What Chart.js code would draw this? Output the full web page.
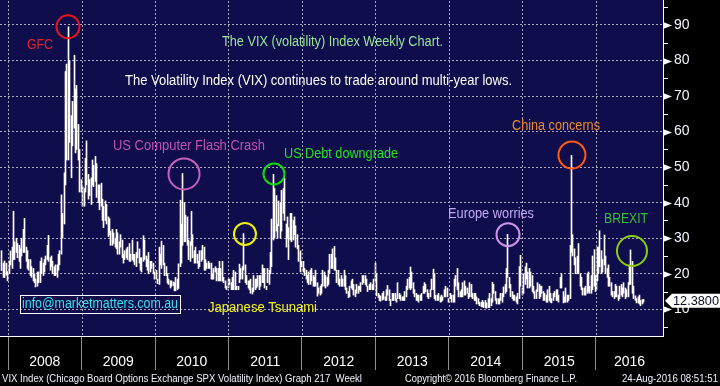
<!DOCTYPE html>
<html>
<head>
<meta charset="utf-8">
<title>VIX weekly chart</title>
<script src="https://cdn.jsdelivr.net/npm/chart.js@4.4.1/dist/chart.umd.min.js"></script>
<style>
    html, body { margin: 0; padding: 0; background: #000; }
    canvas { display: block; }
</style>
</head>
<body>
<canvas id="vix" width="720" height="386"></canvas>
<script>
    // weekly high / low of the VIX, one entry per week
    const hi2007 = [26.5, 23.0, 23.6, 23.0, 20.6]
    const lo2007 = [20.9, 19.0, 18.9, 19.6, 18.0]

    const hi2008 = [23.6, 26.4, 27.5, 37.6, 29.0, 30.0, 28.5, 28.0, 27.0, 30.0, 32.5, 35.6, 27.5, 26.5, 24.0, 24.0, 22.0, 21.5, 20.0, 18.5, 20.5, 20.5, 23.5, 24.5, 23.0, 24.0, 25.0, 28.0, 30.8, 24.5, 25.0, 23.5, 22.0, 22.5, 22.5, 25.5, 26.5, 42.2, 37.0, 48.4, 76.9, 79.0, 89.5, 80.0, 64.5, 68.5, 81.5, 72.0, 73.0, 62.0, 55.0, 46.5]
    const lo2008 = [20.0, 22.5, 21.5, 24.0, 24.0, 26.0, 24.5, 23.5, 21.5, 25.0, 26.0, 26.0, 23.5, 21.5, 21.0, 19.5, 19.0, 18.0, 17.5, 16.3, 16.5, 17.5, 17.5, 20.0, 19.5, 20.5, 22.5, 24.0, 23.5, 21.0, 22.0, 20.0, 19.5, 19.5, 19.0, 21.0, 22.5, 25.5, 30.0, 34.0, 45.0, 52.0, 52.0, 57.0, 47.0, 56.0, 61.0, 54.0, 55.0, 52.0, 43.0, 43.0]

    const hi2009 = [44.5, 44.0, 52.5, 57.4, 48.0, 46.5, 47.0, 52.0, 50.5, 53.0, 51.0, 45.0, 45.0, 45.5, 41.0, 39.0, 40.5, 39.5, 36.0, 35.5, 32.0, 32.5, 31.5, 30.0, 32.5, 31.5, 29.0, 31.0, 29.5, 25.5, 26.5, 27.0, 27.5, 28.5, 25.5, 29.5, 25.5, 25.5, 26.0, 29.0, 27.0, 24.5, 24.5, 30.7, 29.5, 25.0, 24.0, 26.0, 23.5, 23.5, 23.0, 20.5]
    const lo2009 = [39.0, 39.0, 43.0, 45.0, 41.0, 42.0, 39.5, 45.0, 44.5, 46.0, 41.5, 40.0, 38.0, 39.0, 35.0, 33.0, 35.0, 34.0, 30.5, 31.0, 28.0, 28.0, 28.5, 27.5, 27.0, 25.5, 25.5, 27.5, 24.5, 23.0, 24.0, 24.5, 24.0, 23.5, 23.5, 24.0, 23.5, 22.5, 22.0, 24.5, 23.0, 21.0, 20.5, 23.5, 24.0, 22.0, 21.0, 20.0, 20.5, 21.5, 20.0, 18.5]

    const hi2010 = [21.0, 18.5, 27.5, 25.5, 29.2, 28.0, 23.0, 22.0, 20.0, 18.5, 18.0, 18.0, 17.7, 17.5, 19.0, 18.5, 22.8, 40.7, 34.0, 48.2, 40.0, 36.5, 36.0, 29.5, 29.0, 37.6, 31.0, 26.5, 27.5, 25.5, 23.5, 26.5, 26.5, 28.0, 27.5, 24.0, 23.0, 23.5, 23.0, 23.0, 20.0, 21.5, 22.0, 21.5, 21.5, 23.5, 21.5, 23.5, 19.0, 18.0, 16.5, 18.5]
    const lo2010 = [18.5, 17.2, 17.0, 22.5, 21.5, 22.5, 19.5, 19.5, 17.4, 17.0, 16.0, 16.5, 16.7, 15.2, 15.2, 15.5, 15.9, 22.0, 23.0, 28.0, 29.0, 29.0, 28.0, 24.0, 23.5, 28.0, 24.5, 23.0, 23.0, 23.0, 21.5, 22.0, 23.5, 24.0, 21.0, 21.0, 21.5, 21.5, 21.5, 18.5, 18.5, 18.5, 20.5, 18.0, 18.0, 18.0, 18.0, 17.9, 17.5, 16.0, 15.5, 16.0]

    const hi2011 = [18.5, 17.5, 19.0, 21.0, 20.5, 16.5, 16.5, 22.7, 21.5, 22.0, 31.3, 22.5, 19.5, 18.0, 18.0, 18.5, 16.0, 19.5, 18.5, 18.5, 19.5, 19.5, 19.5, 22.5, 21.5, 21.5, 16.5, 21.5, 21.0, 26.0, 35.4, 48.0, 44.0, 42.0, 34.0, 40.5, 40.0, 43.5, 44.0, 46.9, 34.0, 36.0, 33.0, 37.0, 37.0, 35.0, 36.0, 33.5, 31.0, 28.0, 26.5, 23.5]
    const lo2011 = [17.0, 15.5, 15.5, 15.5, 15.5, 15.5, 15.5, 17.5, 18.5, 18.5, 21.0, 17.5, 17.0, 16.0, 15.5, 14.5, 14.3, 15.0, 15.5, 16.0, 16.5, 15.5, 16.5, 17.5, 17.5, 16.0, 15.5, 17.5, 17.0, 20.0, 22.0, 29.5, 30.0, 32.0, 30.0, 33.5, 30.0, 32.0, 37.0, 35.0, 27.5, 30.0, 24.0, 29.5, 29.0, 29.5, 31.0, 27.5, 27.0, 23.5, 20.5, 22.0]

    const hi2012 = [23.5, 21.5, 21.0, 19.5, 20.5, 21.0, 21.5, 19.5, 19.0, 21.0, 17.5, 16.0, 16.5, 17.0, 21.0, 20.5, 19.5, 19.0, 21.0, 25.5, 25.5, 27.0, 27.7, 24.5, 21.0, 21.0, 18.5, 19.5, 18.5, 21.0, 19.5, 16.0, 15.0, 16.5, 18.0, 18.5, 17.0, 15.5, 17.0, 16.5, 16.5, 17.5, 19.5, 19.5, 19.5, 18.5, 16.5, 17.0, 17.5, 17.0, 18.5, 23.0]
    const lo2012 = [20.5, 19.5, 18.5, 17.5, 17.0, 17.0, 18.0, 16.5, 16.5, 16.5, 13.7, 14.5, 14.0, 14.5, 16.5, 16.5, 16.0, 16.5, 17.0, 20.0, 21.5, 21.5, 21.0, 21.0, 17.5, 17.0, 16.5, 16.5, 16.5, 16.5, 15.5, 14.5, 13.3, 13.5, 16.0, 15.5, 14.0, 13.5, 14.5, 14.5, 15.5, 15.0, 17.0, 17.5, 17.0, 16.5, 15.0, 15.5, 15.5, 15.5, 15.5, 18.0]

    const hi2013 = [20.0, 14.5, 14.0, 13.7, 14.5, 15.0, 13.5, 15.5, 16.7, 15.5, 12.8, 14.5, 14.5, 14.5, 13.0, 17.5, 14.5, 14.0, 13.5, 13.5, 15.0, 16.5, 18.5, 19.0, 21.9, 20.5, 17.5, 15.5, 14.5, 14.0, 14.0, 14.0, 14.5, 16.5, 17.5, 17.0, 15.5, 14.5, 15.5, 18.5, 21.3, 20.0, 14.0, 14.0, 14.5, 13.5, 14.0, 13.5, 15.5, 16.5, 16.0, 13.0]
    const lo2013 = [13.8, 13.3, 12.5, 12.3, 12.6, 12.8, 12.5, 12.5, 14.0, 12.5, 11.0, 12.5, 12.5, 12.5, 12.0, 13.0, 13.0, 12.5, 12.5, 12.5, 12.5, 13.5, 15.5, 16.0, 15.5, 16.0, 14.5, 13.5, 12.5, 12.5, 12.0, 12.5, 12.5, 14.5, 14.5, 15.0, 13.5, 13.0, 13.5, 15.5, 15.5, 13.0, 12.5, 12.5, 12.5, 12.0, 12.2, 12.5, 13.5, 13.5, 13.5, 12.0]

    const hi2014 = [14.5, 14.0, 14.0, 18.5, 19.5, 21.5, 17.5, 15.0, 15.5, 17.5, 18.0, 16.5, 16.0, 14.5, 17.5, 17.0, 14.5, 14.5, 14.5, 13.5, 13.0, 12.0, 12.0, 12.5, 12.0, 12.5, 11.8, 13.0, 14.5, 13.0, 17.6, 17.0, 15.0, 13.0, 13.0, 13.0, 14.5, 14.5, 16.3, 17.0, 21.5, 31.1, 19.0, 17.0, 15.0, 14.0, 14.0, 13.5, 14.5, 22.0, 25.2, 16.0]
    const lo2014 = [13.0, 12.0, 12.0, 12.0, 16.5, 15.5, 13.5, 13.5, 13.5, 13.5, 14.0, 14.0, 14.5, 13.0, 13.5, 13.5, 13.0, 12.5, 12.5, 11.5, 11.5, 11.0, 10.7, 10.7, 10.5, 10.5, 10.3, 10.5, 10.5, 11.0, 12.0, 14.5, 12.5, 11.5, 11.5, 11.5, 12.5, 12.0, 13.5, 14.5, 15.0, 19.0, 16.0, 13.5, 13.0, 12.5, 12.5, 12.0, 11.5, 13.0, 16.5, 14.0]

    const hi2015 = [20.0, 22.0, 23.0, 20.5, 21.5, 20.5, 19.5, 16.5, 15.0, 15.5, 17.5, 17.0, 16.5, 16.5, 15.0, 14.5, 14.0, 15.5, 16.5, 14.5, 13.0, 14.5, 15.0, 15.5, 15.5, 14.0, 19.0, 20.0, 15.0, 13.5, 16.0, 14.0, 14.0, 28.0, 53.3, 31.0, 27.0, 24.5, 25.0, 28.5, 20.0, 19.0, 16.0, 16.0, 16.5, 20.0, 20.5, 16.5, 19.5, 25.0, 26.8, 19.5, 19.5]
    const lo2015 = [14.5, 17.0, 18.5, 16.0, 16.0, 16.5, 15.0, 14.5, 13.0, 13.0, 15.0, 13.0, 13.5, 14.5, 12.5, 12.5, 12.0, 12.0, 12.5, 12.0, 11.8, 12.5, 13.5, 12.5, 12.5, 12.0, 16.0, 16.0, 11.8, 12.0, 12.0, 12.0, 12.5, 13.0, 26.0, 25.0, 22.5, 20.0, 20.0, 20.0, 16.5, 15.5, 14.0, 14.0, 14.0, 14.5, 15.0, 14.5, 14.5, 15.5, 16.5, 15.0, 15.5]

    const hi2016 = [27.5, 27.5, 32.1, 26.5, 24.0, 30.9, 25.0, 21.5, 22.5, 19.0, 17.5, 15.0, 15.0, 17.0, 16.5, 14.0, 16.5, 17.0, 16.0, 17.5, 16.0, 15.5, 17.5, 22.5, 26.7, 23.5, 16.5, 13.8, 13.0, 13.5, 14.0, 12.5, 12.7, 12.8]
    const lo2016 = [18.0, 20.0, 22.0, 20.0, 20.5, 22.5, 20.0, 19.0, 16.5, 16.5, 14.0, 13.5, 13.0, 13.5, 13.5, 12.5, 13.0, 14.0, 13.5, 14.5, 13.0, 13.5, 13.5, 17.0, 17.0, 14.5, 13.0, 12.5, 11.8, 11.8, 11.5, 11.0, 11.5, 12.0]

    const lastValue = 12.38
    const yTicks = [10, 20, 30, 40, 50, 60, 70, 80, 90]
    const yearLines = [2008, 2009, 2010, 2011, 2012, 2013, 2014, 2015, 2016]

    const xMin = 2007.891
    const xMax = 2016.912
    const yMin = 2.49
    const yMax = 97.03

    const navy = '#0f0d4b'
    const gridColor = '#a8a8b8'
    const FONT = '"Liberation Sans", Arial, sans-serif'

    // [year, first week index, highs, lows]
    const blocks = [
        [2007, 47, hi2007, lo2007], [2008, 0, hi2008, lo2008], [2009, 0, hi2009, lo2009],
        [2010, 0, hi2010, lo2010], [2011, 0, hi2011, lo2011], [2012, 0, hi2012, lo2012],
        [2013, 0, hi2013, lo2013], [2014, 0, hi2014, lo2014], [2015, 0, hi2015, lo2015],
        [2016, 0, hi2016, lo2016]
    ]
    const bars = []
    blocks.forEach(([year, start, hi, lo]) => {
        hi.forEach((h, i) => {
            bars.push({ x: year + (start + i + 0.5) / 52.18, y: [lo[i], h] })
        })
    })

    // year label ticks sit half way between the year lines, last one centred in what is left
    const labelTicks = yearLines.map((y) => y === 2016 ? (2016 + xMax) / 2 : y + 0.5)

    const circles = [
        [2008.816, 89.5, 11.5, '#e8141c'],
        [2010.395, 48.1, 15.5, '#c462bc'],
        [2011.224, 31.2, 11, '#f2f200'],
        [2011.619, 48.1, 10.5, '#12d812'],
        [2014.803, 31.0, 11.5, '#d092ea'],
        [2015.673, 53.4, 13.5, '#ff5a10'],
        [2016.49, 26.4, 15, '#8ccf10']
    ]

    const notes = [
        ['GFC', 27, 45, '#e8202a', 26],
        ['The VIX (volatility) Index Weekly Chart.', 222, 42, '#98e698', 221],
        ['The Volatility Index (VIX) continues to trade around multi-year lows.', 125, 81, '#ffffff', 387],
        ['US Computer Flash Crash', 113, 146, '#c052b6', 152],
        ['US Debt downgrade', 284, 154, '#22e022', 114],
        ['Japanese Tsunami', 208, 308, '#f2f21e', 109],
        ['Europe worries', 448, 214, '#c4a8f8', 86],
        ['China concerns', 512, 126, '#f08a2a', 88],
        ['BREXIT', 604, 219, '#34c034', 44],
        ['info@marketmatters.com.au', 22, 304, '#38e0ec', 156]
    ]

    const text = (ctx, str, x, y, color, size, maxW, align) => {
        ctx.font = size + 'px ' + FONT
        ctx.fillStyle = color
        ctx.textAlign = align || 'left'
        ctx.textBaseline = 'middle'
        ctx.fillText(str, x, y, maxW)
    }

    const noPad = (s) => {
        s.paddingLeft = 0
        s.paddingRight = 0
        s.paddingTop = 0
        s.paddingBottom = 0
    }

    const decor = {
        id: 'decor',
        beforeDraw(chart) {
            const { ctx, chartArea: a, width, height } = chart
            ctx.save()
            ctx.fillStyle = '#000'
            ctx.fillRect(0, 0, width, height)
            ctx.fillStyle = navy
            ctx.fillRect(a.left, a.top, a.right - a.left, a.bottom - a.top)
            ctx.restore()
        },
        beforeDatasetsDraw(chart) {
            // keep the 1px weekly bars on whole pixels so they stay crisp
            chart.getDatasetMeta(0).data.forEach((el) => { el.x = Math.round(el.x) + 0.5 })
        },
        afterDatasetsDraw(chart) {
            const { ctx, chartArea: a, scales: { x } } = chart
            // dotted year lines through the plot
            ctx.save()
            ctx.fillStyle = gridColor
            yearLines.forEach((yr) => {
                const px = Math.round(x.getPixelForValue(yr))
                for (let py = Math.ceil(a.top) + 1; py < a.bottom - 1; py += 4) {
                    ctx.fillRect(px, py, 1, 2)
                }
            })
            ctx.restore()
        },
        afterDraw(chart) {
            const { ctx, chartArea: a, scales: { x, y } } = chart
            ctx.save()

            // right axis: small ticks on the fives, white flags on the tens
            ctx.fillStyle = '#fff'
            ctx.strokeStyle = '#fff'
            ctx.lineWidth = 1
            for (let v = 5; v <= 95; v += 5) {
                const py = Math.round(y.getPixelForValue(v)) + 0.5
                if (v % 10) {
                    ctx.beginPath()
                    ctx.moveTo(a.right, py)
                    ctx.lineTo(a.right + 5, py)
                    ctx.stroke()
                } else {
                    ctx.beginPath()
                    ctx.moveTo(a.right, py - 3.5)
                    ctx.lineTo(a.right + 9, py)
                    ctx.lineTo(a.right, py + 3.5)
                    ctx.closePath()
                    ctx.fill()
                }
            }

            // annotation circles
            ctx.lineWidth = 2
            circles.forEach(([cx, cy, r, col]) => {
                ctx.strokeStyle = col
                ctx.beginPath()
                ctx.arc(x.getPixelForValue(cx), y.getPixelForValue(cy), r, 0, Math.PI * 2)
                ctx.stroke()
            })

            notes.forEach(([str, tx, ty, col, w]) => text(ctx, str, tx, ty, col, 14, w))

            // box round the e-mail address
            ctx.strokeStyle = '#fff'
            ctx.lineWidth = 1
            ctx.strokeRect(20.5, 295.5, 160, 18)

            // last value tag
            const vy = y.getPixelForValue(lastValue)
            ctx.fillStyle = '#fff'
            ctx.beginPath()
            ctx.moveTo(a.right + 2, vy)
            ctx.lineTo(a.right + 9, vy - 7)
            ctx.lineTo(720, vy - 7)
            ctx.lineTo(720, vy + 7)
            ctx.lineTo(a.right + 9, vy + 7)
            ctx.closePath()
            ctx.fill()
            text(ctx, lastValue.toFixed(4), 673, vy + 0.5, '#0a0a28', 13, 46)

            // footer
            text(ctx, 'VIX Index (Chicago Board Options Exchange SPX Volatility Index) Graph 217  Weekl', 2, 379, '#f2f2ff', 11, 360)
            text(ctx, 'Copyright\u00a9 2016 Bloomberg Finance L.P.', 405, 379, '#f2f2ff', 11, 172)
            text(ctx, '24-Aug-2016 08:51:51', 622, 379, '#f2f2ff', 11, 96)

            ctx.restore()
        }
    }

    const isLine = (c) => c.tick && Number.isInteger(c.tick.value)

    new Chart(document.getElementById('vix'), {
        type: 'bar',
        data: {
            datasets: [{
                data: bars,
                backgroundColor: '#ffffff',
                borderWidth: 0,
                barThickness: 1
            }]
        },
        options: {
            responsive: false,
            animation: false,
            devicePixelRatio: 1,
            layout: { padding: 0 },
            plugins: {
                legend: { display: false },
                tooltip: { enabled: false }
            },
            scales: {
                x: {
                    type: 'linear',
                    min: xMin,
                    max: xMax,
                    offset: false,
                    afterBuildTicks: (s) => {
                        s.ticks = [...yearLines, ...labelTicks].sort((p, q) => p - q).map((v) => ({ value: v }))
                    },
                    afterFit: (s) => { s.height = 50; noPad(s) },
                    grid: {
                        offset: false,
                        drawOnChartArea: false,
                        tickColor: (c) => isLine(c) ? '#8e8e8e' : 'rgba(0,0,0,0)',
                        tickLength: 34,
                        tickBorderDash: [],
                        lineWidth: 1
                    },
                    border: { color: '#ffffff', width: 1 },
                    ticks: {
                        color: '#ffffff',
                        font: { family: FONT, size: 14 },
                        padding: -16,
                        autoSkip: false,
                        maxRotation: 0,
                        callback: (v) => Number.isInteger(v) ? '' : String(Math.floor(v))
                    }
                },
                y: {
                    position: 'right',
                    min: yMin,
                    max: yMax,
                    afterBuildTicks: (s) => { s.ticks = yTicks.map((v) => ({ value: v })) },
                    afterFit: (s) => { s.width = 57; noPad(s) },
                    grid: { color: gridColor, drawTicks: false, lineWidth: 1 },
                    border: { color: '#ffffff', width: 1, dash: [2, 2] },
                    ticks: {
                        color: '#f4f6ff',
                        font: { family: FONT, size: 14 },
                        padding: 11
                    }
                }
            }
        },
        plugins: [decor]
    })
</script>
</body>
</html>
